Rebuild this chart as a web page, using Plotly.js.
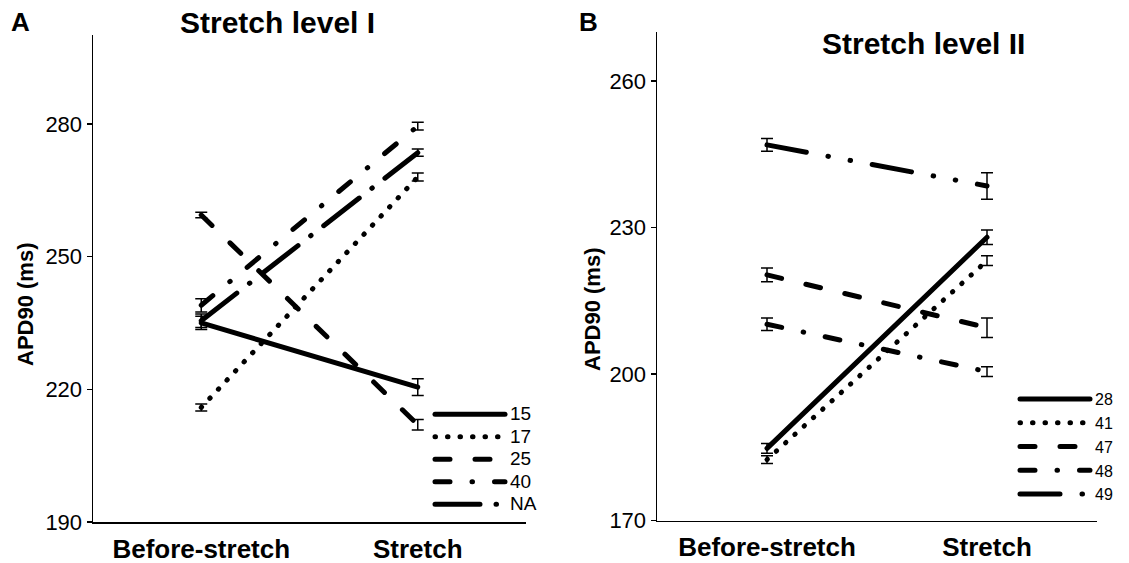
<!DOCTYPE html>
<html><head><meta charset="utf-8">
<script src="https://cdn.plot.ly/plotly-3.0.1.min.js"></script>
<style>
html,body{margin:0;padding:0;background:#fff}
#chart{width:1129px;height:563px}
.js-line{stroke-linecap:round !important;}
text.legendtext{font-size:19px !important;}
</style></head><body><div id="chart"></div>
<script>
// ---- data ----
const categories = ["Before-stretch", "Stretch"];

const namesA = ["15", "17", "25", "40", "NA"];
const valA_15 = [235.0, 220.5];
const valA_17 = [215.9, 268.0];
const valA_25 = [259.4, 212.0];
const valA_40 = [239.0, 279.5];
const valA_NA = [235.5, 273.5];
const errA_15 = [1.5, 1.9];
const errA_17 = [0.8, 0.9];
const errA_25 = [0.6, 1.2];
const errA_40 = [1.5, 0.9];
const errA_NA = [1.5, 0.8];

const namesB = ["28", "41", "47", "48", "49"];
const valB_28 = [184.8, 228.0];
const valB_41 = [182.5, 223.2];
const valB_47 = [220.3, 209.5];
const valB_48 = [210.2, 200.5];
const valB_49 = [246.9, 238.5];
const errB_28 = [1.0, 1.5];
const errB_41 = [0.8, 1.0];
const errB_47 = [1.4, 2.0];
const errB_48 = [1.3, 1.0];
const errB_49 = [1.3, 2.7];

const yTicksA = [190, 220, 250, 280];
const yTicksB = [170, 200, 230, 260];

// ---- styles ----
const dashA = ["solid", "0.5px,12px", "15px,25px", "15px,22px,0.5px,22px", "45px,16px,0.5px,16px"];
const dashB = ["solid", "0.5px,12px", "15px,25px", "15px,22px,0.5px,22px", "40px,22px,0.5px,22px,0.5px,22px"];

const valsA = [valA_15, valA_17, valA_25, valA_40, valA_NA];
const errsA = [errA_15, errA_17, errA_25, errA_40, errA_NA];
const valsB = [valB_28, valB_41, valB_47, valB_48, valB_49];
const errsB = [errB_28, errB_41, errB_47, errB_48, errB_49];

function mk(name, y, err, dash, xa, ya, leg) {
  return {
    type: "scatter", mode: "lines", name: name,
    x: categories, y: y, xaxis: xa, yaxis: ya, legend: leg,
    line: {color: "#000", width: 5, dash: dash},
    error_y: {type: "data", array: err, visible: true, color: "#000", thickness: 1.5, width: 6},
    hoverinfo: "skip"
  };
}
const traces = [];
namesA.forEach((n, i) => traces.push(mk(n, valsA[i], errsA[i], dashA[i], "x", "y", "legend")));
namesB.forEach((n, i) => traces.push(mk(n, valsB[i], errsB[i], dashB[i], "x2", "y2", "legend2")));

const W = 1129, H = 563;
const px = v => v / W, py = v => 1 - v / H;
const axisCommon = {showline: true, linecolor: "#000", linewidth: 1.5, showgrid: false, zeroline: false, fixedrange: true};
const font = "Liberation Sans, Arial, sans-serif";
function ann(text, x, y, size, extra) {
  return Object.assign({text: text, x: px(x), y: py(y), xref: "paper", yref: "paper", xanchor: "center", yanchor: "middle",
    showarrow: false, font: {size: size, weight: 700}}, extra || {});
}

const layout = {
  width: W, height: H,
  margin: {l: 0, r: 0, t: 0, b: 0},
  paper_bgcolor: "#fff", plot_bgcolor: "#fff",
  font: {family: font, color: "#000", size: 22},
  showlegend: true,
  xaxis: Object.assign({}, axisCommon, {domain: [px(93), px(526)], anchor: "y", type: "category", range: [-0.5, 1.5], ticks: "", ticklabelstandoff: 3, tickfont: {size: 26, weight: 700}}),
  yaxis: Object.assign({}, axisCommon, {domain: [py(522), py(35)], anchor: "x", range: [190, 300.1], tickvals: yTicksA, ticks: "outside", ticklen: 5, tickwidth: 1.5, tickcolor: "#000", tickfont: {size: 22}}),
  xaxis2: Object.assign({}, axisCommon, {domain: [px(657), px(1097)], anchor: "y2", type: "category", range: [-0.5, 1.5], ticks: "", ticklabelstandoff: 3, tickfont: {size: 26, weight: 700}}),
  yaxis2: Object.assign({}, axisCommon, {domain: [py(520.7), py(32)], anchor: "x2", range: [170, 270.0], tickvals: yTicksB, ticks: "outside", ticklen: 5, tickwidth: 1.5, tickcolor: "#000", tickfont: {size: 22}}),
  legend: {x: px(430), xanchor: "left", y: py(398), yanchor: "top", itemwidth: 70, tracegroupgap: 0, font: {size: 15}, bgcolor: "rgba(0,0,0,0)", traceorder: "normal"},
  legend2: {x: px(1015), xanchor: "left", y: py(382), yanchor: "top", itemwidth: 70, tracegroupgap: 0, font: {size: 16}, bgcolor: "rgba(0,0,0,0)", traceorder: "normal"},
  annotations: [
    ann("A", 20, 22, 26),
    ann("B", 588, 22, 26),
    ann("Stretch level I", 277, 23, 30),
    ann("Stretch level II", 923, 44, 30),
    ann("APD90 (ms)", 25, 305, 22, {textangle: -90}),
    ann("APD90 (ms)", 592, 310, 22, {textangle: -90})
  ]
};

Plotly.newPlot("chart", traces, layout, {staticPlot: true, displayModeBar: false}).then(function (gd) {
  gd.querySelectorAll("text.legendtext").forEach(function (t) {
    t.style.setProperty("font-size", "19px", "important");
  });
});
</script></body></html>
